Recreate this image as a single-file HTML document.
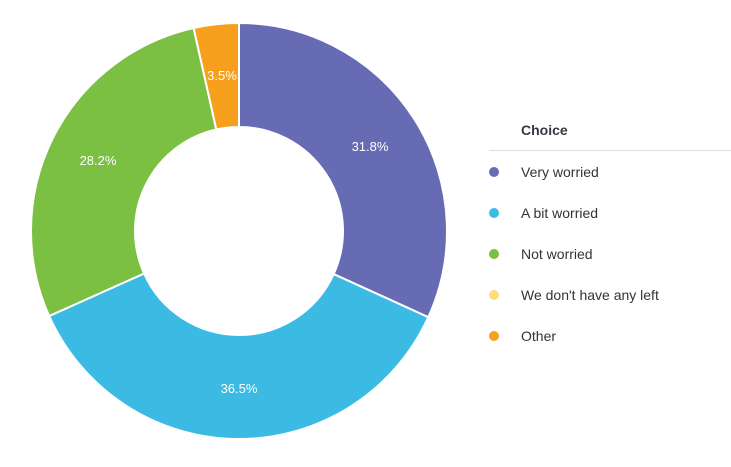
<!DOCTYPE html>
<html><head><meta charset="utf-8"><style>
body{margin:0;background:#fff;width:731px;height:462px;overflow:hidden;font-family:"Liberation Sans",sans-serif}
</style></head><body>
<svg id="s" width="731" height="462" xmlns="http://www.w3.org/2000/svg">
<g id="pie"></g>
<g font-size="13" fill="#fff" text-anchor="middle" font-family="Liberation Sans, sans-serif">
<text x="370" y="151">31.8%</text>
<text x="239" y="393">36.5%</text>
<text x="98" y="165">28.2%</text>
<text x="222" y="80">3.5%</text>
</g>
<g font-family="Liberation Sans, sans-serif" font-size="14" fill="#333">
<text x="521" y="135" font-weight="bold" fill="#333844">Choice</text>
<line x1="489" y1="150.5" x2="731" y2="150.5" stroke="#ddd"/>
<circle cx="494" cy="172" r="5" fill="#666bb3"/><text x="521" y="177">Very worried</text>
<circle cx="494" cy="213" r="5" fill="#3bbbe4"/><text x="521" y="218">A bit worried</text>
<circle cx="494" cy="254" r="5" fill="#7bc043"/><text x="521" y="259">Not worried</text>
<circle cx="494" cy="295" r="5" fill="#fddc7b"/><text x="521" y="300">We don't have any left</text>
<circle cx="494" cy="336" r="5" fill="#f6a01e"/><text x="521" y="341">Other</text>
</g>
</svg>
<script>
var cx=239,cy=231,R=208,r=104;
var d=[[31.8,"#666bb3"],[36.5,"#3bbbe4"],[28.2,"#7bc043"],[3.5,"#f6a01e"]];
var a=0,h="";
function p(rad,t){var an=t/100*2*Math.PI;return [cx+rad*Math.sin(an),cy-rad*Math.cos(an)];}
d.forEach(function(s){var b=a+s[0];var lg=s[0]>50?1:0;
var p1=p(R,a),p2=p(R,b),p3=p(r,b),p4=p(r,a);
h+='<path d="M'+p1+' A'+R+','+R+' 0 '+lg+' 1 '+p2+' L'+p3+' A'+r+','+r+' 0 '+lg+' 0 '+p4+' Z" fill="'+s[1]+'" stroke="#fff" stroke-width="2"/>';a=b;});
document.getElementById("pie").innerHTML=h;
</script>
</body></html>
